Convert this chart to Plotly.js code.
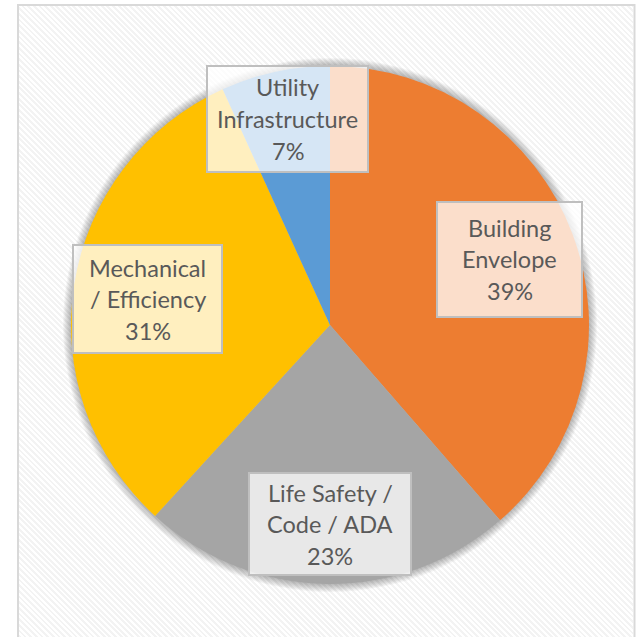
<!DOCTYPE html>
<html>
<head>
<meta charset="utf-8">
<script src="https://cdn.plot.ly/plotly-3.0.1.min.js"></script>
<style>
  html, body { margin: 0; padding: 0; background: #ffffff; }
  #wrap { position: relative; width: 638px; height: 637px; overflow: hidden; }
  #pattern { position: absolute; left: 19px; top: 6px; width: 614px; height: 640px;
    background: repeating-linear-gradient(45deg, #ffffff 0px, #ffffff 2px, #f3f3f3 2px, #f3f3f3 4px); }
  #chart { position: absolute; left: 0; top: 0; width: 638px; height: 637px; }
</style>
</head>
<body>
<div id="wrap"><div id="pattern"></div><div id="chart"></div></div>
<script>
// ---- data ----
const categories = ['Building Envelope', 'Life Safety / Code / ADA', 'Mechanical / Efficiency', 'Utility Infrastructure'];
const values = [38.6, 23.2, 31.4, 6.8];
const colors = ['#ED7D31', '#A5A5A5', '#FFC000', '#5B9BD5'];
const labelLines = [['Building', 'Envelope'], ['Life Safety /', 'Code / ADA'], ['Mechanical', '/ Efficiency'], ['Utility', 'Infrastructure']];

// ---- layout config (pixels) ----
const W = 638, H = 637;
const CX = 330, CY = 325, R = 259;
// label boxes: [left, top, right, bottom]
const boxes = [[437, 202, 582, 317], [249, 473, 411, 575], [73, 245, 222, 353], [207, 66, 368, 172]];
const lineGap = 31.5;

const px = x => x / W;
const py = y => 1 - y / H;

const total = values.reduce((a, b) => a + b, 0);
const pct = values.map(v => Math.round(v / total * 100) + '%');

const shapes = [];
// soft shadow around pie
for (let i = 8; i >= 1; i--) {
  const r = R + i;
  shapes.push({type: 'circle', xref: 'paper', yref: 'paper', layer: 'below',
    x0: px(CX - r), x1: px(CX + r), y0: py(CY + r), y1: py(CY - r),
    fillcolor: 'rgba(0,0,0,0.035)', line: {width: 0}});
}
// frame
shapes.push({type: 'rect', xref: 'paper', yref: 'paper', layer: 'below',
  x0: px(18), x1: px(634.5), y0: py(660), y1: py(5),
  fillcolor: 'rgba(0,0,0,0)', line: {color: '#D9D9D9', width: 2}});
// label boxes
const annotations = [];
boxes.forEach((b, i) => {
  shapes.push({type: 'rect', xref: 'paper', yref: 'paper', layer: 'above',
    x0: px(b[0]), x1: px(b[2]), y0: py(b[3]), y1: py(b[1]),
    fillcolor: 'rgba(255,255,255,0.75)', line: {color: '#BFBFBF', width: 2}});
  const cx = (b[0] + b[2]) / 2, cy = (b[1] + b[3]) / 2;
  const lines = labelLines[i].concat([pct[i]]);
  lines.forEach((t, j) => {
    annotations.push({xref: 'paper', yref: 'paper', x: px(cx), y: py(cy + (j - 1) * lineGap),
      xanchor: 'center', yanchor: 'middle', showarrow: false, text: t,
      font: {family: 'Lato, Carlito, Calibri, sans-serif', size: 23.5, color: '#595959'}});
  });
});

const trace = {
  type: 'pie',
  labels: categories,
  values: values,
  sort: false,
  direction: 'clockwise',
  rotation: 0,
  marker: {colors: colors, line: {width: 0}},
  textinfo: 'none',
  hoverinfo: 'label+percent',
  domain: {x: [px(CX - R), px(CX + R)], y: [py(CY + R), py(CY - R)]},
  showlegend: false
};

const layout = {
  width: W, height: H,
  margin: {l: 0, r: 0, t: 0, b: 0},
  paper_bgcolor: 'rgba(0,0,0,0)',
  plot_bgcolor: 'rgba(0,0,0,0)',
  showlegend: false,
  shapes: shapes,
  annotations: annotations
};

Plotly.newPlot('chart', [trace], layout, {displayModeBar: false, staticPlot: true});
</script>
</body>
</html>
